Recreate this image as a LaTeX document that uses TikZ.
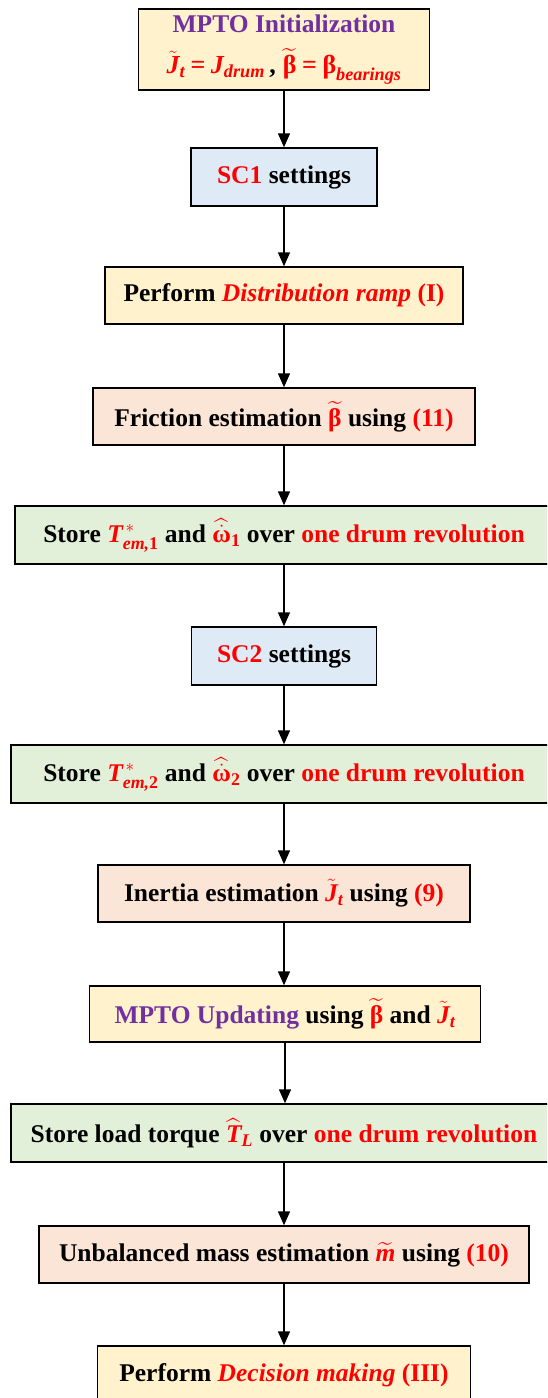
\documentclass[tikz,border=0pt]{standalone}
\usepackage{amsmath}
\usepackage{fontspec}
\setmainfont{Liberation Serif}
\usetikzlibrary{arrows.meta}
\definecolor{cpurple}{HTML}{7030A0}
\definecolor{cred}{HTML}{FF0000}
\definecolor{fyellow}{HTML}{FFF2CC}
\definecolor{fblue}{HTML}{DEEBF7}
\definecolor{forange}{HTML}{FBE5D6}
\definecolor{fgreen}{HTML}{E2F0D9}
\newcommand{\bi}[1]{\text{\bfseries\itshape #1}}
\newcommand{\bu}[1]{\text{\bfseries #1}}
\newcommand{\rd}[1]{\textcolor{cred}{#1}}
\tikzset{
  box/.style={draw=black, line width=1.5pt, align=center, inner sep=0pt,
    font=\fontsize{25.5}{34}\selectfont\bfseries},
  arr/.style={-{Triangle[width=12pt,length=14pt]}, line width=1.5pt, black},
}
\begin{document}
\begin{tikzpicture}[x=1pt,y=-1pt]
\clip (0,0) rectangle (547,1398);
\fill[white] (0,0) rectangle (547,1398);

\node[box, fill=fyellow, minimum width=291pt, minimum height=81pt] (n1) at (284,49.5)
 {\textcolor{cpurple}{MPTO Initialization}\\[7pt]
  \fontsize{26}{34}\selectfont
  \rd{$\tilde{\bi{J}}_{\bi{t}} \mathbin{\bu{=}} \bi{J}_{\bi{drum}}$}\,$\bu{,}$\;\rd{$\widetilde{\bu{β}} \mathbin{\bu{=}} \bu{β}_{\bi{bearings}}$}};

\node[box, fill=fblue, minimum width=186pt, minimum height=58pt] (n2) at (284,177)
 {\rd{SC1} settings};

\node[box, fill=fyellow, minimum width=358pt, minimum height=57pt] (n3) at (284,295.5)
 {Perform \rd{\itshape Distribution ramp} \rd{(I)}};

\node[box, fill=forange, minimum width=382pt, minimum height=57pt] (n4) at (284,416.5)
 {Friction estimation \rd{$\widetilde{\bu{β}}$} using \rd{(11)}};

\node[box, fill=fgreen, minimum width=538pt, minimum height=58pt] (n5) at (284,535)
 {Store \rd{$\bi{T}^{\,*}_{\bi{em,}\bu{1}}$} and \rd{$\widehat{\dot{\bu{ω}}}_{\bu{1}}$} over \rd{one drum revolution}};

\node[box, fill=fblue, minimum width=185pt, minimum height=58pt] (n6) at (284,656)
 {\rd{SC2} settings};

\node[box, fill=fgreen, minimum width=546pt, minimum height=58pt] (n7) at (284,774)
 {Store \rd{$\bi{T}^{\,*}_{\bi{em,}\bu{2}}$} and \rd{$\widehat{\dot{\bu{ω}}}_{\bu{2}}$} over \rd{one drum revolution}};

\node[box, fill=forange, minimum width=372pt, minimum height=57pt] (n8) at (284,893.5)
 {Inertia estimation \rd{$\tilde{\bi{J}}_{\bi{t}}$} using \rd{(9)}};

\node[box, fill=fyellow, minimum width=391pt, minimum height=56pt] (n9) at (285,1014)
 {\textcolor{cpurple}{MPTO Updating} using \rd{$\widetilde{\bu{β}}$} and \rd{$\tilde{\bi{J}}_{\bi{t}}$}};

\node[box, fill=fgreen, minimum width=546pt, minimum height=58pt] (n10) at (284,1133)
 {Store load torque \rd{$\widehat{\bi{T}}_{\bi{L}}$} over \rd{one drum revolution}};

\node[box, fill=forange, minimum width=490pt, minimum height=57pt] (n11) at (284,1254.5)
 {Unbalanced mass estimation \rd{$\widetilde{\bi{m}}$} using \rd{(10)}};

\node[box, fill=fyellow, minimum width=373pt, minimum height=58pt] (n12) at (284,1375)
 {Perform \rd{\itshape Decision making} \rd{(III)}};

\foreach \a/\b in {n1/n2,n2/n3,n3/n4,n4/n5,n5/n6,n6/n7,n7/n8,n8/n9,n9/n10,n10/n11,n11/n12}
  \draw[arr] (\a.south) -- (\a.south |- \b.north);
\end{tikzpicture}
\end{document}
